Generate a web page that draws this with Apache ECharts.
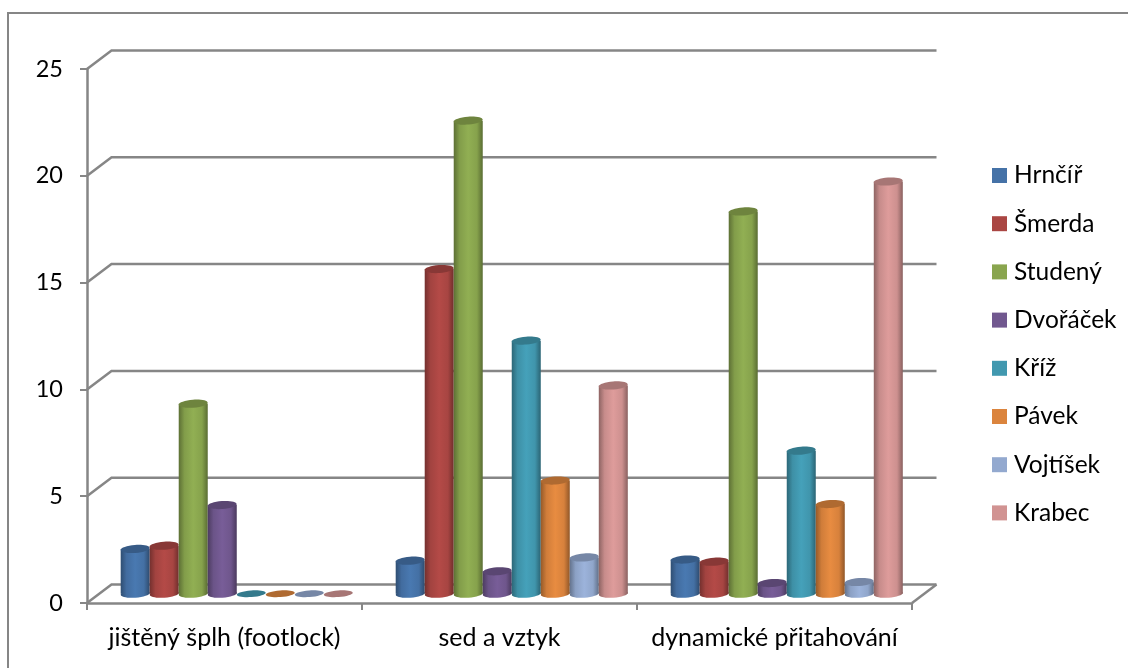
<!DOCTYPE html>
<html>
<head>
    <meta charset="utf-8">
    <title>Chart</title>
    <style>
        html, body { margin: 0; padding: 0; background: #fff; }
        #chart { width: 1128px; height: 668px; }
    </style>
</head>
<body>
<div id="chart"></div>
<script src="https://cdn.jsdelivr.net/npm/echarts@6/dist/echarts.min.js"></script>
<script>
    var categories = ['jištěný šplh (footlock)', 'sed a vztyk', 'dynamické přitahování'];
    var names = ['Hrnčíř', 'Šmerda', 'Studený', 'Dvořáček', 'Kříž', 'Pávek', 'Vojtíšek', 'Krabec'];
    var colors = ['#4572a7', '#aa4643', '#89a54e', '#71588f', '#4198af', '#db843d', '#93a9cf', '#d19392'];
    var yTicks = [0, 5, 10, 15, 20, 25];

    var hrncir = [2.1, 1.55, 1.6];
    var smerda = [2.25, 15.2, 1.5];
    var studeny = [8.9, 22.15, 17.9];
    var dvoracek = [4.15, 1.05, 0.5];
    var kriz = [0, 11.85, 6.7];
    var pavek = [0, 5.3, 4.2];
    var vojtisek = [0, 1.7, 0.55];
    var krabec = [0, 9.75, 19.3];
    var seriesValues = [hrncir, smerda, studeny, dvoracek, kriz, pavek, vojtisek, krabec];

    var gridColor = '#868686';
    var fontName = 'Lato';
    //hloubka 3D podlahy
    var depthX = 24.5;
    var depthY = -18.5;

    function shade(hex, f) {
        var n = parseInt(hex.slice(1), 16);
        var c = [n >> 16, (n >> 8) & 255, n & 255].map(function (v) {
            return Math.min(255, Math.round(v * f));
        });
        return 'rgb(' + c.join(',') + ')';
    }

    function bodyFill(color) {
        return new echarts.graphic.LinearGradient(0, 0, 1, 0, [
            {offset: 0, color: shade(color, 0.68)},
            {offset: 0.2, color: shade(color, 0.95)},
            {offset: 0.5, color: shade(color, 1.06)},
            {offset: 0.8, color: shade(color, 0.98)},
            {offset: 1, color: shade(color, 0.66)}
        ]);
    }

    function cylinder(s) {
        return function (params, api) {
            var idx = api.value(0);
            var band = api.size([1, 0])[0];
            var w = band * 0.1055;
            var top = api.coord([idx, api.value(1)]);
            var base = api.coord([idx, 0]);
            var cx = base[0] + depthX / 2 + (s - 3.5) * w;
            var topY = top[1] + depthY / 2;
            var baseY = base[1] + depthY / 2;
            var rx = w / 2;
            var ry = 4;
            var color = colors[s];
            var kids = [];
            if (api.value(1) > 0) {
                kids.push({
                    type: 'ellipse',
                    x: cx, y: baseY, rotation: 0.07,
                    shape: {cx: 0, cy: 0, rx: rx, ry: ry},
                    style: {fill: bodyFill(color)}
                });
                kids.push({
                    type: 'rect',
                    shape: {x: cx - rx, y: topY, width: w, height: baseY - topY},
                    style: {fill: bodyFill(color)}
                });
            }
            kids.push({
                type: 'ellipse',
                x: cx, y: topY, rotation: 0.07,
                shape: {cx: 0, cy: 0, rx: rx, ry: api.value(1) > 0 ? ry : 3.3},
                style: {fill: shade(color, 0.8)}
            });
            return {type: 'group', children: kids};
        };
    }

    function wallLine(params, api) {
        var v = api.value(1);
        var rect = params.coordSys;
        var y = api.coord([0, v])[1];
        var x0 = rect.x;
        var x1 = rect.x + rect.width;
        var kids = [{
            type: 'polyline',
            shape: {points: [[x0, y], [x0 + depthX, y + depthY], [x1 + depthX, y + depthY]]},
            style: {fill: null, stroke: gridColor, lineWidth: 2.5}
        }];
        if (v === 0) {
            kids.push({
                type: 'line',
                shape: {x1: x1, y1: y, x2: x1 + depthX, y2: y + depthY},
                style: {stroke: gridColor, lineWidth: 2.5}
            });
        }
        return {type: 'group', children: kids};
    }

    var series = [{
        type: 'custom',
        name: 'wall',
        silent: true,
        z: 1,
        clip: false,
        renderItem: wallLine,
        encode: {x: 0, y: 1},
        data: yTicks.map(function (v) { return [0, v]; })
    }];
    names.forEach(function (name, s) {
        series.push({
            type: 'custom',
            name: name,
            z: 3,
            clip: false,
            itemStyle: {color: colors[s]},
            renderItem: cylinder(s),
            encode: {x: 0, y: 1},
            data: seriesValues[s].map(function (v, i) { return [i, v]; })
        });
    });

    var chart = echarts.init(document.getElementById('chart'));
    chart.setOption({
        animation: false,
        backgroundColor: '#fff',
        textStyle: {fontFamily: fontName},
        grid: {left: 87, top: 69, width: 825, height: 534},
        legend: {
            orient: 'vertical',
            left: 992,
            top: 163,
            padding: 0,
            itemWidth: 15,
            itemHeight: 15,
            itemGap: 23.2,
            icon: 'rect',
            data: names,
            selectedMode: false,
            textStyle: {fontFamily: fontName, fontSize: 24.5, color: '#000', padding: [0, 0, 0, 2]}
        },
        xAxis: {
            type: 'category',
            data: categories,
            axisLine: {lineStyle: {color: gridColor, width: 2.5}},
            axisTick: {show: true, length: 7, lineStyle: {color: gridColor, width: 2}},
            axisLabel: {fontFamily: fontName, fontSize: 25, color: '#000', margin: 22, interval: 0}
        },
        yAxis: {
            type: 'value',
            min: 0,
            max: 25,
            interval: 5,
            splitLine: {show: false},
            axisLine: {show: true, lineStyle: {color: gridColor, width: 2.5}},
            axisTick: {show: true, length: 7, lineStyle: {color: gridColor, width: 2}},
            axisLabel: {fontFamily: fontName, fontSize: 23.5, color: '#000', margin: 24, padding: [4, 0, 0, 0]}
        },
        graphic: [{
            type: 'rect',
            shape: {x: 8, y: 13, width: 1300, height: 900},
            style: {fill: null, stroke: gridColor, lineWidth: 2},
            silent: true
        }],
        series: series
    });
</script>
</body>
</html>
